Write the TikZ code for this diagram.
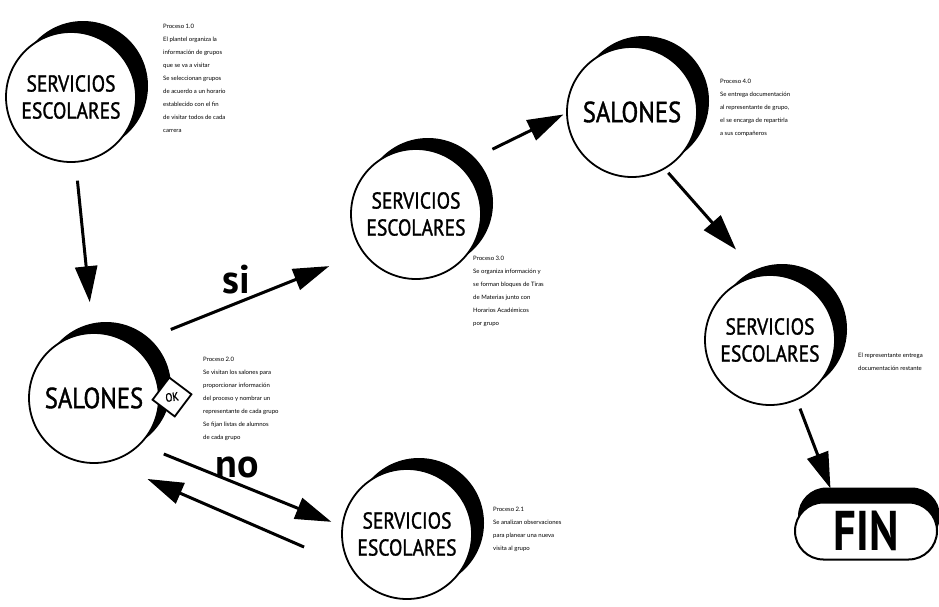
\documentclass[tikz,border=0pt]{standalone}
\usepackage{fontspec}
\setmainfont{PT Sans}
\newfontfamily\bubblefont[FakeStretch=0.85,FakeBold=1.3]{PT Sans}
\newfontfamily\finfont[FakeStretch=0.8]{PT Sans Bold}
\newfontfamily\notefont{Lato}
\usetikzlibrary{arrows.meta,shapes.geometric,shapes.misc,shadows}

\tikzset{
  bubble/.style={circle, draw, line width=1.8pt, fill=white, minimum size=130pt,
    inner sep=0pt, align=center, font=\bubblefont\fontsize{23}{27}\selectfont,
    drop shadow={shadow xshift=12pt, shadow yshift=11pt, fill=black, opacity=1}},
  bigword/.style={font=\bubblefont\fontsize{29}{32}\selectfont},
  note/.style={anchor=north west, inner sep=0pt, align=left,
    font=\notefont\fontsize{6}{13}\selectfont},
  arr/.style={line width=3pt, -{Triangle[length=36pt,width=22pt]}},
  answer/.style={font=\bfseries\fontsize{40}{40}\selectfont, inner sep=0pt},
}

\begin{document}
\begin{tikzpicture}[x=1pt,y=-1pt]
\useasboundingbox (0,0) rectangle (939,606);

% process bubbles
\node[bubble] (c1) at (71,97) {SERVICIOS\\ESCOLARES};
\node[bubble, bigword] (sal) at (94,398) {SALONES};
\node[bubble] (c3) at (416,214) {SERVICIOS\\ESCOLARES};
\node[bubble, bigword] (c4) at (632,112) {SALONES};
\node[bubble] (c5) at (770,340) {SERVICIOS\\ESCOLARES};
\node[bubble] (c6) at (407,534) {SERVICIOS\\ESCOLARES};

% decision mark on the classroom bubble
\node[diamond, draw, fill=white, line width=1.8pt, minimum size=40pt, inner sep=0pt,
  rotate=8, font=\bubblefont\fontsize{12}{12}\selectfont] (ok) at (172,397) {OK};

% end terminal
\node[rounded rectangle, draw, fill=white, line width=2pt, minimum width=142pt,
  minimum height=57pt, inner sep=0pt,
  drop shadow={shadow xshift=3pt, shadow yshift=15pt, fill=black, opacity=1},
  font=\finfont\fontsize{56}{56}\selectfont] (fin) at (866,531) {FIN};

% flow
\draw[arr, shorten <=18pt, shorten >=30pt] (c1.274) -- (sal.91);
\draw[arr, shorten <=41pt, shorten >=36pt] (sal.54) -- (c3.216);
\draw[arr, shorten <=36pt, shorten >=3pt] (c3.48) -- (c4.181);
\draw[arr, shorten <=5pt, shorten >=34pt] (c4.300) -- (c5.100);
\draw[arr, shorten <=9pt, shorten >=14pt] (c5.294) -- (fin.136);
\draw[arr, shorten <=25pt, shorten >=11pt] (sal.315) -- (c6.173);
\draw[arr, shorten <=50pt, shorten >=42pt] (c6.210) -- (sal.283);

\node[answer] (si) at (236,280) {si};
\node[answer] (no) at (237,467) {no};

% process descriptions
\node[note] (n1) at (163,24) {Proceso 1.0\\El plantel organiza la\\información de grupos\\que se va a visitar\\Se seleccionan grupos\\de acuerdo a un horario\\establecido con el fin\\de visitar todos de cada\\carrera};
\node[note] (n4) at (720,79) {Proceso 4.0\\Se entrega documentación\\al representante de grupo,\\el se encarga de repartirla\\a sus compañeros};
\node[note] (n3) at (473,256) {Proceso 3.0\\Se organiza información y\\se forman bloques de Tiras\\de Materias junto con\\Horarios Académicos\\por grupo};
\node[note] (n2) at (203,357) {Proceso 2.0\\Se visitan los salones para\\proporcionar información\\del proceso y nombrar un\\representante de cada grupo\\Se fijan listas de alumnos\\de cada grupo};
\node[note] (n21) at (493,507) {Proceso 2.1\\Se analizan observaciones\\para planear una nueva\\visita al grupo};
\node[note] (n5) at (858,353) {El representante entrega\\documentación restante};
\end{tikzpicture}
\end{document}
